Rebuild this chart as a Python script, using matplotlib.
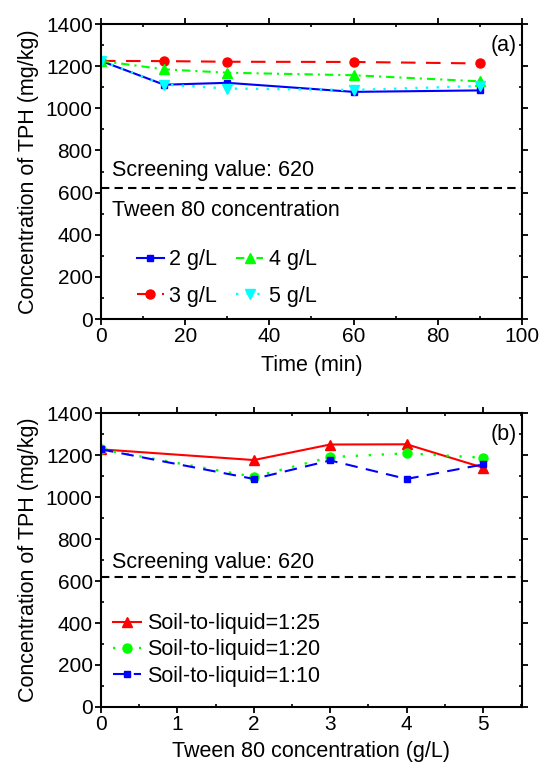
import matplotlib
matplotlib.use('Agg')
import matplotlib.pyplot as plt
import numpy as np
from matplotlib.ticker import MultipleLocator

plt.rcParams['font.family'] = ['Liberation Sans', 'DejaVu Sans']
plt.rcParams['font.size'] = 15.5

# panel (a): TPH vs time for different Tween 80 concentrations
time_min = [0, 15, 30, 60, 90]
tween_2 = [1225, 1112, 1121, 1078, 1085]
tween_3 = [1225, 1224, 1221, 1220, 1213]
tween_4 = [1225, 1185, 1169, 1157, 1128]
tween_5 = [1225, 1113, 1094, 1087, 1106]

# panel (b): TPH vs Tween 80 concentration for soil-to-liquid ratios
tween_conc = [0, 2, 3, 4, 5]
ratio_25 = [1227, 1176, 1250, 1251, 1140]
ratio_20 = [1227, 1096, 1190, 1208, 1187]
ratio_10 = [1227, 1086, 1174, 1086, 1155]

screening = 620

fig = plt.figure(figsize=(5.42, 7.63), dpi=100)
axA = fig.add_axes([0.1863, 0.5819, 0.7768, 0.3866])
axB = fig.add_axes([0.1863, 0.0734, 0.7768, 0.3853])


def style(ax):
    ax.tick_params(which='major', direction='out', top=True, right=True,
                   length=4, width=1.3, labelsize=15, pad=2)
    ax.tick_params(which='minor', direction='in', top=True, right=True,
                   length=2.5, width=1.2)
    for s in ax.spines.values():
        s.set_linewidth(1.5)
    ax.yaxis.set_major_locator(MultipleLocator(200))
    ax.yaxis.set_minor_locator(MultipleLocator(100))
    ax.set_ylim(0, 1400)
    ax.set_ylabel('Concentration of TPH (mg/kg)', labelpad=5)


# ---- panel a
axA.plot(time_min, tween_2, color='#0000ff', ls='-', marker='s', ms=5, lw=1.5, label='2 g/L')
axA.plot(time_min, tween_3, color='#ff0000', ls=(0, (7, 5)), marker='o', ms=6.5, lw=1.5, label='3 g/L')
axA.plot(time_min, tween_4, color='#00ff00', ls=(0, (4, 2.4, 1, 2.4)), marker='^', ms=7, lw=1.5, label='4 g/L')
axA.plot(time_min, tween_5, color='#00ffff', ls=(0, (1, 3.5)), marker='v', ms=7, lw=1.7, label='5 g/L')
axA.axhline(screening, color='black', ls=(0, (4, 2.5)), lw=1.5)
axA.text(2.6, 707, 'Screening value: 620', va='center')
axA.text(2.6, 517, 'Tween 80 concentration', va='center')
axA.text(98.8, 1300, '(a)', ha='right', va='center')
axA.set_xlim(0, 100)
axA.xaxis.set_major_locator(MultipleLocator(20))
axA.xaxis.set_minor_locator(MultipleLocator(10))
axA.set_xlabel('Time (min)', labelpad=6)
style(axA)
axA.legend(loc='center left', bbox_to_anchor=(0.085, 0.139), ncol=2, frameon=False,
           borderpad=0, borderaxespad=0, handlelength=1.25, handletextpad=0.25,
           columnspacing=0.9, labelspacing=0.7, fontsize=15.5)

# ---- panel b
axB.plot(tween_conc, ratio_25, color='#ff0000', ls='-', marker='^', ms=7, lw=1.5, label='Soil-to-liquid=1:25')
axB.plot(tween_conc, ratio_20, color='#00ff00', ls=(0, (1, 4.5)), marker='o', ms=6.5, lw=1.7, label='Soil-to-liquid=1:20')
axB.plot(tween_conc, ratio_10, color='#0000ff', ls=(0, (6, 4)), marker='s', ms=5, lw=1.5, label='Soil-to-liquid=1:10')
axB.axhline(screening, color='black', ls=(0, (4, 2.5)), lw=1.5)
axB.text(0.14, 690, 'Screening value: 620', va='center')
axB.text(5.44, 1300, '(b)', ha='right', va='center')
axB.set_xlim(0, 5.51)
axB.xaxis.set_major_locator(MultipleLocator(1))
axB.xaxis.set_minor_locator(MultipleLocator(0.5))
axB.set_xlabel('Tween 80 concentration (g/L)', labelpad=5)
style(axB)
axB.legend(loc='center left', bbox_to_anchor=(0.0285, 0.194), frameon=False,
           borderpad=0, borderaxespad=0, handlelength=1.3, handletextpad=0.28,
           labelspacing=0.25, fontsize=15.5)

fig.savefig('out.png', dpi=100)
